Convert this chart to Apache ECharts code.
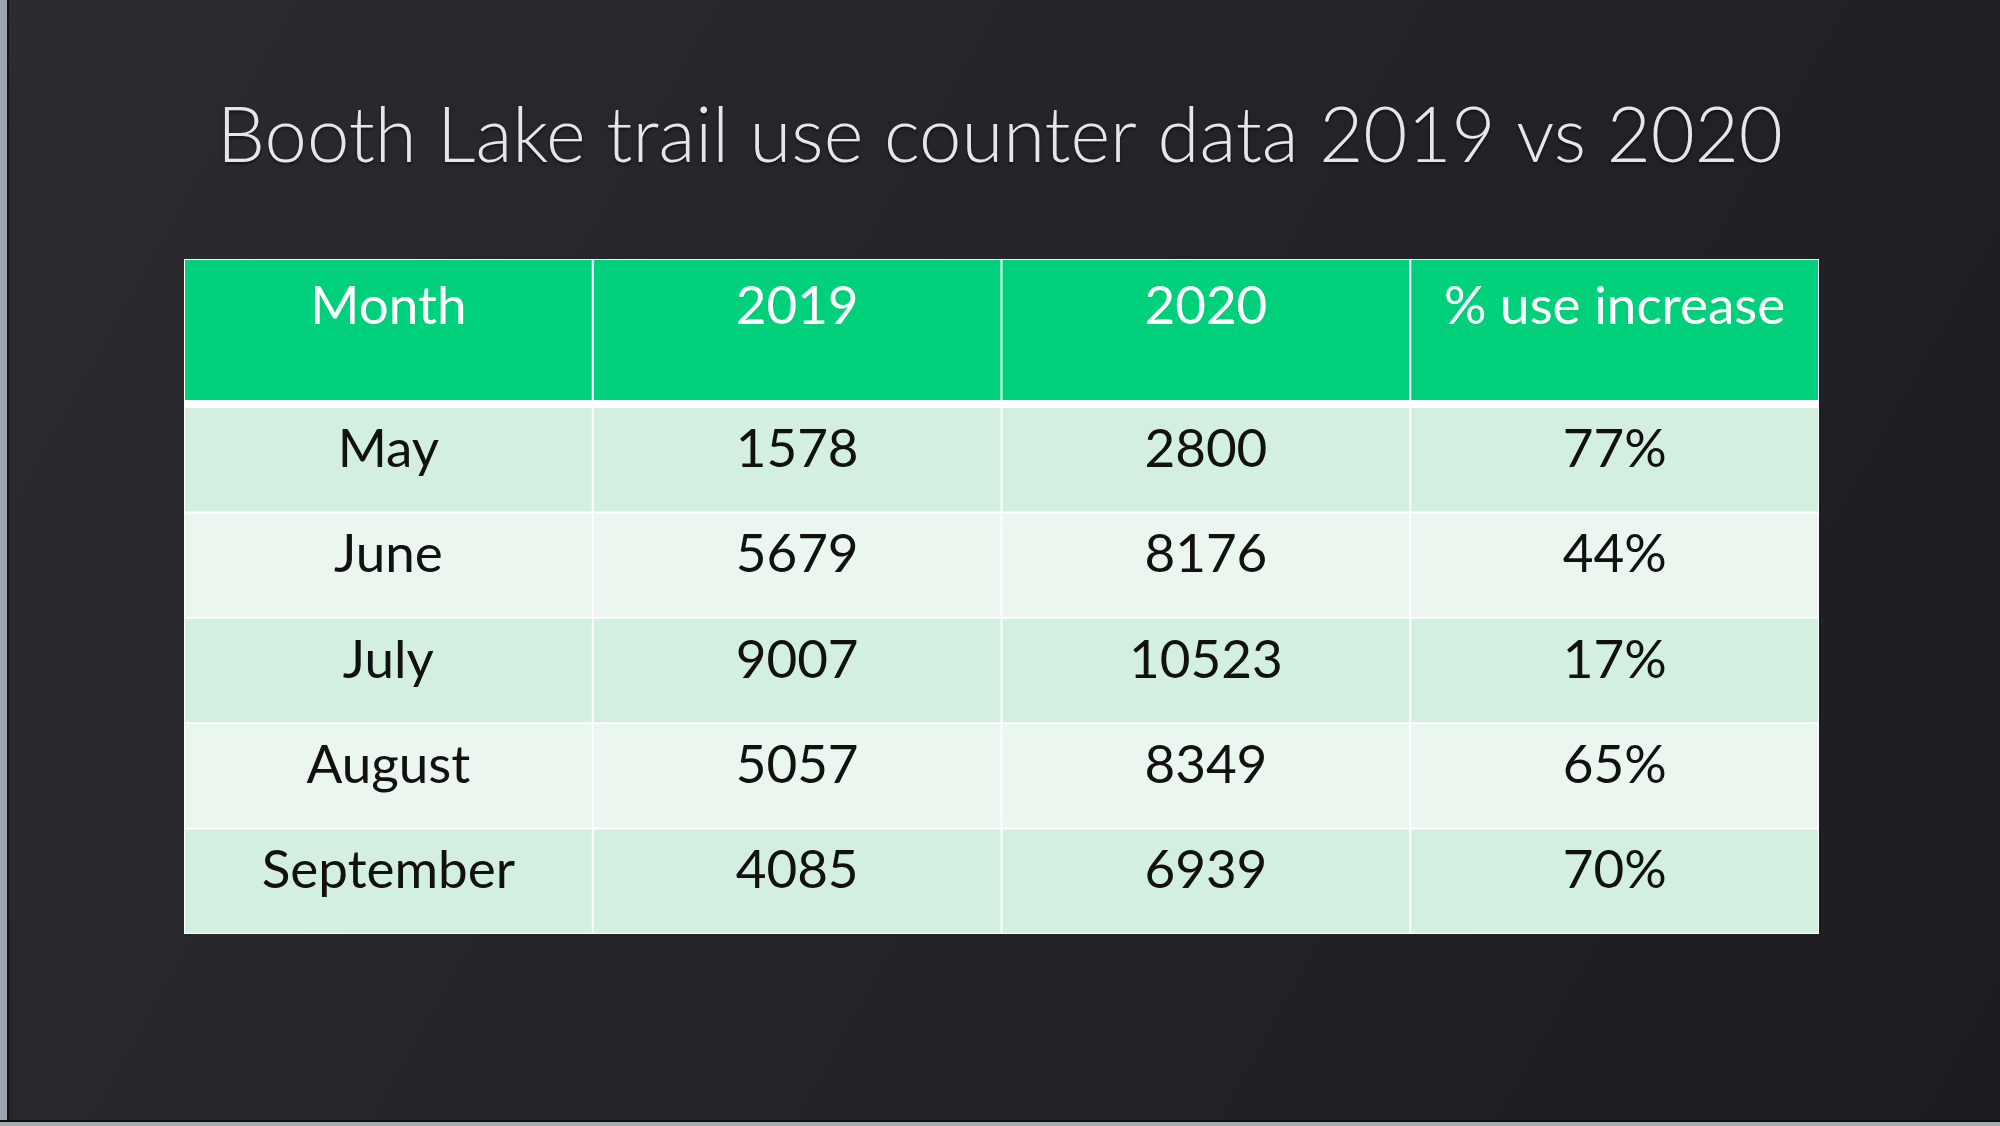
<!DOCTYPE html>
<html>
<head>
<meta charset="utf-8">
<script src="https://cdn.jsdelivr.net/npm/echarts@6/dist/echarts.min.js"></script>
<style>
  html, body { margin: 0; padding: 0; background: #1f1f23; }
  #chart { width: 2000px; height: 1126px; }
</style>
</head>
<body>
<div id="chart"></div>
<script>
// ===== datos de la tabla =====
const TITLE = 'Booth Lake trail use counter data 2019 vs 2020';
const headers = ['Month', '2019', '2020', '% use increase'];
const months = ['May', 'June', 'July', 'August', 'September'];
const visits2019 = [1578, 5679, 9007, 5057, 4085];
const visits2020 = [2800, 8176, 10523, 8349, 6939];
const pctIncrease = ['77%', '44%', '17%', '65%', '70%'];

// ---- colores ----
const C = {
  head: '#00cf7c', rowDark: '#d3efe0', rowLight: '#eaf6ee',
  line: '#ffffff', ink: '#111111', title: '#e6e6e8',
};
const FONT = 'Lato, "Open Sans", sans-serif';

// ---- celdas ----
const colIdx = headers.map((_, i) => i);
const headCells = headers.map((h, i) => ({ value: [i, 0], text: h }));
const bodyCells = [];
months.forEach((m, r) => {
  [m, String(visits2019[r]), String(visits2020[r]), pctIncrease[r]].forEach((t, c) => {
    bodyCells.push({ value: [c, r], text: t });
  });
});

function cellRenderer(cells, isHead) {
  return (params, api) => {
    const c = api.coord([api.value(0), api.value(1)]);
    const s = api.size([1, 1]);
    const x = c[0] - s[0] / 2, y = c[1] - s[1] / 2;
    const row = api.value(1);
    const fill = isHead ? C.head : (row % 2 === 0 ? C.rowDark : C.rowLight);
    const bottomGap = isHead ? 7 : 1;
    return {
      type: 'group',
      children: [
        { type: 'rect', shape: { x: x + 1, y: y + 1, width: s[0] - 2, height: s[1] - 1 - bottomGap },
          style: { fill } },
        { type: 'text',
          style: {
            text: cells[params.dataIndex].text,
            x: c[0], y: isHead ? y + 48 : c[1] - 10,
            align: 'center', verticalAlign: 'middle',
            fill: isHead ? '#ffffff' : C.ink,
            font: `400 53px ${FONT}`,
          } },
      ],
    };
  };
}

const chart = echarts.init(document.getElementById('chart'), null, { renderer: 'canvas' });
const hiddenCat = (data, extra) => Object.assign({
  type: 'category', data, show: false, axisLine: { show: false }, axisTick: { show: false },
}, extra || {});

chart.setOption({
  backgroundColor: {
    type: 'linear', x: 0, y: 0, x2: 1, y2: 1,
    colorStops: [{ offset: 0, color: '#2b2b2f' }, { offset: 1, color: '#1d1d21' }],
  },
  animation: false,
  title: {
    text: TITLE, left: 'center', top: 94,
    textStyle: { color: C.title, fontFamily: FONT, fontWeight: 300, fontSize: 76,
      textShadowColor: 'rgba(0,0,0,0.5)', textShadowBlur: 3, textShadowOffsetY: 2 },
  },
  grid: [
    { left: 184, width: 1635, top: 259, height: 148, show: true, backgroundColor: C.line, borderWidth: 0 },
    { left: 184, width: 1635, top: 407, height: 527, show: true, backgroundColor: C.line, borderWidth: 0 },
  ],
  xAxis: [hiddenCat(colIdx, { gridIndex: 0 }), hiddenCat(colIdx, { gridIndex: 1 })],
  yAxis: [
    hiddenCat(['head'], { gridIndex: 0 }),
    hiddenCat(months, { gridIndex: 1, inverse: true }),
  ],
  graphic: [
    // marco gris de la captura
    { type: 'rect', left: 0, top: 0, shape: { width: 7, height: 1126 }, style: { fill: '#9ea2aa' }, silent: true },
    { type: 'rect', left: 7, top: 0, shape: { width: 2, height: 1126 }, style: { fill: '#141416' }, silent: true },
    { type: 'rect', left: 0, bottom: 0, shape: { width: 2000, height: 4 }, style: { fill: '#a7abb2' }, silent: true },
    { type: 'rect', left: 0, bottom: 4, shape: { width: 2000, height: 2 }, style: { fill: '#0e0e10' }, silent: true },
  ],
  series: [
    { type: 'custom', xAxisIndex: 0, yAxisIndex: 0, data: headCells,
      renderItem: cellRenderer(headCells, true) },
    { type: 'custom', xAxisIndex: 1, yAxisIndex: 1, data: bodyCells,
      renderItem: cellRenderer(bodyCells, false) },
  ],
});
window.addEventListener('resize', () => chart.resize());
</script>
</body>
</html>
